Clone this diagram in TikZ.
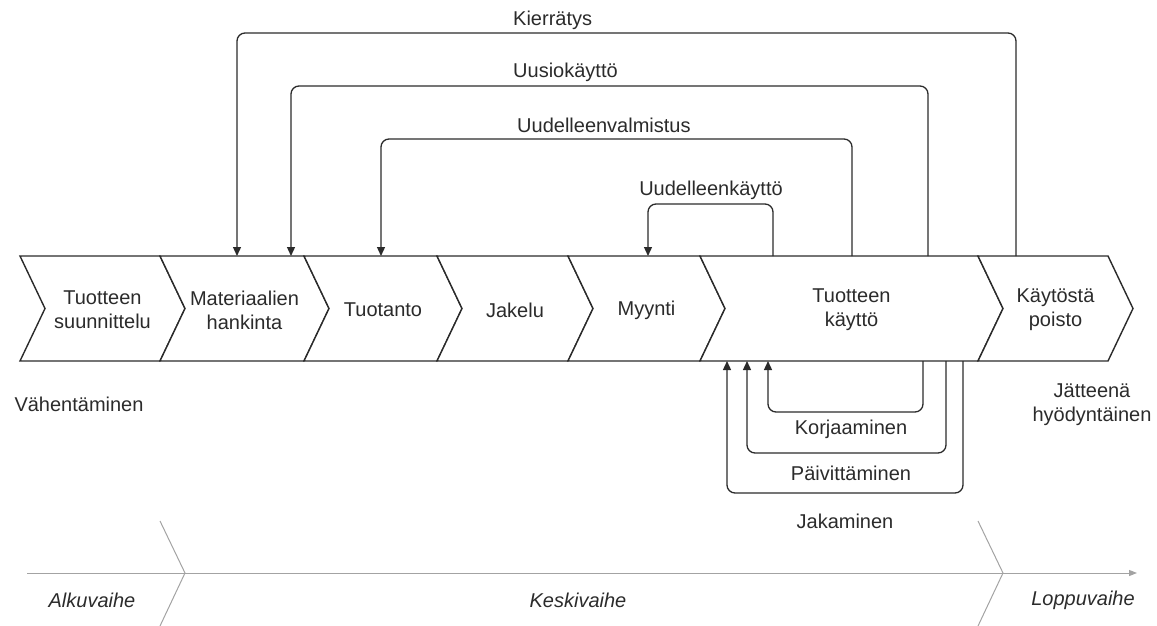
\documentclass[tikz,border=0pt]{standalone}
\usepackage{fontspec}
\setmainfont{Liberation Sans}
\usetikzlibrary{arrows.meta}
\definecolor{ink}{HTML}{2B2B2B}
\definecolor{axisgray}{HTML}{A3A3A3}
\tikzset{
  stage/.style={draw=ink, line width=1.4pt, fill=white, line join=miter},
  stagetext/.style={text=ink, font=\fontsize{20}{24}\selectfont, align=center, inner sep=0pt},
  loopline/.style={draw=ink, line width=1.3pt, rounded corners=8pt, -{Triangle[length=9pt,width=8pt]}},
  looplabel/.style={text=ink, font=\fontsize{20}{24}\selectfont, inner sep=0pt, align=center},
  phase/.style={text=ink, font=\fontsize{20}{24}\selectfont\itshape, inner sep=0pt},
  axisline/.style={draw=axisgray, line width=1pt},
}
\begin{document}
\begin{tikzpicture}[x=1pt,y=-1pt]
\useasboundingbox (0,0) rectangle (1157,626);

% value chain stages (chevrons)
\foreach \l/\r/\n/\t in {
  20/160/suun/{Tuotteen\\suunnittelu},
  160/304/hank/{Materiaalien\\hankinta},
  304/437/tuot/{Tuotanto},
  437/568/jak/{Jakelu},
  568/700/myyn/{Myynti},
  700/978/kay/{Tuotteen\\käyttö},
  978/1108/pois/{Käytöstä\\poisto}} {
  \draw[stage] (\l,256) -- (\r,256) -- ++(25,52.5) -- (\r,361) -- (\l,361) -- ++(25,-52.5) -- cycle;
  \node[stagetext] (\n) at ({(\l+\r)/2+12.5},310) {\t};
}

% attachment points on the chevrons
\coordinate (pois-t) at (1016,256);
\coordinate (kay-t1) at (928,256);
\coordinate (kay-t2) at (852,256);
\coordinate (kay-t3) at (773,256);
\coordinate (hank-t1) at (237,256);
\coordinate (hank-t2) at (291,256);
\coordinate (tuot-t) at (381,256);
\coordinate (myyn-t) at (648,256);
\coordinate (kay-b1) at (923,361);
\coordinate (kay-b2) at (946,361);
\coordinate (kay-b3) at (963,361);
\coordinate (kay-a1) at (768,361);
\coordinate (kay-a2) at (747,361);
\coordinate (kay-a3) at (727,361);

% loops above the chain
\draw[loopline] (pois-t) -- (pois-t |- 0,33) -- (hank-t1 |- 0,33) -- (hank-t1);
\draw[loopline] (kay-t1) -- (kay-t1 |- 0,86) -- (hank-t2 |- 0,86) -- (hank-t2);
\draw[loopline] (kay-t2) -- (kay-t2 |- 0,139) -- (tuot-t |- 0,139) -- (tuot-t);
\draw[loopline] (kay-t3) -- (kay-t3 |- 0,204) -- (myyn-t |- 0,204) -- (myyn-t);

\node[looplabel, anchor=west] (kierr) at (513,20) {Kierrätys};
\node[looplabel, anchor=west] (uusio) at (513,72) {Uusiokäyttö};
\node[looplabel, anchor=west] (uvalm) at (517,125) {Uudelleenvalmistus};
\node[looplabel] (ukay) at (711,190) {Uudelleenkäyttö};

% loops below the chain
\draw[loopline] (kay-b1) -- (kay-b1 |- 0,412) -- (kay-a1 |- 0,412) -- (kay-a1);
\draw[loopline] (kay-b2) -- (kay-b2 |- 0,453) -- (kay-a2 |- 0,453) -- (kay-a2);
\draw[loopline] (kay-b3) -- (kay-b3 |- 0,493) -- (kay-a3 |- 0,493) -- (kay-a3);

\node[looplabel] (korj) at (851,429) {Korjaaminen};
\node[looplabel] (paiv) at (851,473) {Päivittäminen};
\node[looplabel] (jaka) at (845,521) {Jakaminen};

% side notes
\node[looplabel] (vahe) at (79,404) {Vähentäminen};
\node[looplabel] (jate) at (1092,405) {Jätteenä\\hyödyntäinen};

% life-cycle phase axis
\coordinate (ax-s) at (27,573);
\coordinate (ax-e) at (1137,573);
\draw[axisline, -{Triangle[length=8pt,width=6pt]}] (ax-s) -- (ax-e);
\draw[axisline] (160,521) -- (185,573) -- (160,626);
\draw[axisline] (978,521) -- (1003,573) -- (978,626);

\node[phase] (alku) at (92,600) {Alkuvaihe};
\node[phase] (keski) at (578,600) {Keskivaihe};
\node[phase] (loppu) at (1083,600) {Loppuvaihe};
\end{tikzpicture}
\end{document}
